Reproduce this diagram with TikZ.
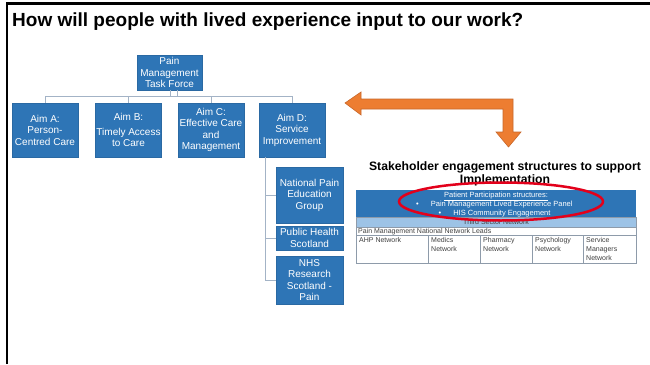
\documentclass[tikz,border=0pt]{standalone}
\usepackage{fontspec}
\setmainfont{Liberation Sans}
\definecolor{boxblue}{HTML}{2E75B6}
\definecolor{boxedge}{HTML}{2A69A3}
\definecolor{linkgrey}{HTML}{A3B3C6}
\definecolor{arroworange}{HTML}{ED7D31}
\definecolor{arrowedge}{HTML}{C8672A}
\definecolor{rowblue}{HTML}{9DC3E6}
\definecolor{cellgrey}{HTML}{8E9BAA}
\definecolor{celltext}{HTML}{404040}
\definecolor{ringred}{HTML}{E3001B}

\begin{document}
\begin{tikzpicture}[x=1pt,y=-1pt,
  orgbox/.style={fill=boxblue, draw=boxedge, line width=0.4pt, text=white,
    align=center, inner sep=0pt, font=\fontsize{10}{11.5}\selectfont},
  link/.style={draw=linkgrey, line width=0.8pt},
  celltxt/.style={text=celltext, inner sep=0pt, align=left,
    font=\fontsize{7}{9}\selectfont},
  headtxt/.style={text=white, inner sep=0pt, font=\fontsize{7.5}{9}\selectfont},
]
\useasboundingbox (0,0) rectangle (650,364);
\fill[white] (0,0) rectangle (650,364);

% frame lines along the top and left edges
\draw[line width=2.5pt, black] (7,364) -- (7,3.5) -- (650,3.5);

% heading
\node[anchor=base west, inner sep=0pt, font=\bfseries\fontsize{19}{22}\selectfont] (title)
  at (12,27) {How will people with lived experience input to our work?};

% organisation chart
\node[orgbox, minimum width=65, minimum height=35] (tf) at (169.5,72.5) {Pain\\Management\\Task Force};
\node[orgbox, minimum width=66, minimum height=54] (aimA) at (45,130) {Aim A:\\Person-\\Centred Care};
\node[orgbox, minimum width=66, minimum height=54] (aimB) at (128.5,130) {Aim B:\\[3pt]Timely Access\\to Care};
\node[orgbox, minimum width=66, minimum height=54] (aimC) at (211,130) {Aim C:\\Effective Care\\and\\Management};
\node[orgbox, minimum width=66, minimum height=54] (aimD) at (292,130) {Aim D:\\Service\\Improvement};
\node[orgbox, minimum width=67, minimum height=56] (npeg) at (309.5,195) {National Pain\\Education\\Group};
\node[orgbox, minimum width=67, minimum height=24] (phs) at (309.5,238) {Public Health\\Scotland};
\node[orgbox, minimum width=67, minimum height=48] (nrs) at (309.5,280) {NHS\\Research\\Scotland -\\Pain};

\draw[link] ([xshift=0.5]tf.south) -- ++(0,7);
\draw[link] ([xshift=7.5]tf.south) -- ++(0,7);
\draw[link] (aimA.north) -- ++(0,-6) -| (aimD.north);
\draw[link] (aimB.north) -- ++(0,-6);
\draw[link] (aimC.north) -- ++(0,-6);
\coordinate (drop) at ([xshift=-27]aimD.south);
\draw[link] (drop) |- (npeg.west);
\draw[link] (drop) |- (phs.west);
\draw[link] (drop) |- (nrs.west);

% two-headed bent arrow
\filldraw[fill=arroworange, draw=arrowedge, line width=0.6pt]
  (345,103) -- (361,92) -- (361,99) -- (513,99) -- (513,132) -- (521,132)
  -- (508.5,147) -- (496,132) -- (503,132) -- (503,109) -- (361,109)
  -- (361,115) -- cycle;

% caption of the structures table
\node[anchor=base, inner sep=0pt, font=\bfseries\fontsize{12.2}{13}\selectfont] (cap1)
  at (505,170) {Stakeholder engagement structures to support};
\node[anchor=base, inner sep=0pt, font=\bfseries\fontsize{12.2}{13}\selectfont] (cap2)
  at (505,183.5) {Implementation};

% structures table
\fill[boxblue] (356,190) rectangle (636,217);
\filldraw[fill=rowblue, draw=cellgrey, line width=0.5pt] (356,217) rectangle (636,227);
\filldraw[fill=white, draw=cellgrey, line width=0.5pt] (356,227) rectangle (636,235);
\filldraw[fill=white, draw=cellgrey, line width=0.5pt] (356,235) rectangle (636,263);
\foreach \cx in {428,480,532,583}
  \draw[cellgrey, line width=0.5pt] (\cx,235) -- (\cx,263);

\node[headtxt, anchor=base] (pps) at (496,197.5) {\underline{Patient Participation structures:}};
\node[headtxt, anchor=base west] (panel) at (416,206.5) {\textbullet\hspace{12pt}Pain Management Lived Experience Panel};
\node[headtxt, anchor=base west] (his) at (438.5,215) {\textbullet\hspace{12pt}HIS Community Engagement};
\node[celltxt, anchor=base] (tsn) at (496,224.5) {Third Sector Network};
\node[celltxt, anchor=base west] (leads) at (358,233.5) {Pain Management National Network Leads};
\node[celltxt, anchor=north west] (ahp) at (359,237) {AHP Network};
\node[celltxt, anchor=north west] (med) at (431,237) {Medics\\Network};
\node[celltxt, anchor=north west] (pha) at (483,237) {Pharmacy\\Network};
\node[celltxt, anchor=north west] (psy) at (535,237) {Psychology\\Network};
\node[celltxt, anchor=north west] (smn) at (586,237) {Service\\Managers\\Network};

% highlight ring over the patient participation row
\draw[ringred, line width=2.5pt] (501,201.5) ellipse [x radius=102pt, y radius=19pt];
\end{tikzpicture}
\end{document}
